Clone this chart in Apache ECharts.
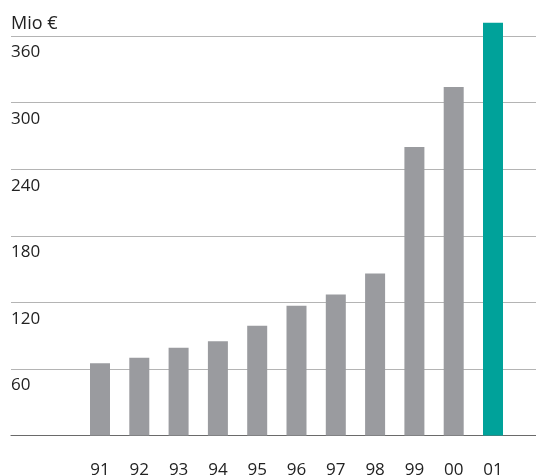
<!DOCTYPE html>
<html>
<head>
<meta charset="utf-8">
<script src="https://cdn.jsdelivr.net/npm/echarts@6/dist/echarts.min.js"></script>
<style>html,body{margin:0;padding:0;background:#fff}#c{width:536px;height:476px}</style>
</head>
<body>
<div id="c"></div>
<script>
const categories = ['91','92','93','94','95','96','97','98','99','00','01'];
const values = [65, 70, 79, 85, 99, 117, 127, 146, 260, 314, 372];
const highlightIndex = 10;
const yTicks = { min: 0, max: 360, interval: 60 };
const unitLabel = 'Mio €';

const FONT = '"Open Sans", "Noto Sans", sans-serif';
const chart = echarts.init(document.getElementById('c'), null, { renderer: 'canvas' });
chart.setOption({
  animation: false,
  grid: [
    { left: 80.35, right: 23.35, top: 36, bottom: 40.5, containLabel: false, outerBoundsMode: 'none' },
    { left: 11, right: 0, top: 36, bottom: 40.5, containLabel: false, outerBoundsMode: 'none' }
  ],
  xAxis: [
    { type: 'category', gridIndex: 0, data: categories,
      axisLine: { show: false }, axisTick: { show: false },
      axisLabel: { margin: 26, fontSize: 17, color: '#222', fontFamily: FONT } },
    { type: 'value', gridIndex: 1, min: 0, max: 1, show: true,
      axisLine: { show: true, lineStyle: { color: '#6a6a6a', width: 1.2 } },
      axisTick: { show: false }, axisLabel: { show: false }, splitLine: { show: false } }
  ],
  yAxis: [
    { type: 'value', gridIndex: 0, min: yTicks.min, max: yTicks.max, interval: yTicks.interval, show: false },
    { type: 'value', gridIndex: 1, min: yTicks.min, max: yTicks.max, interval: yTicks.interval,
      name: unitLabel, nameLocation: 'end', nameGap: 3,
      nameTextStyle: { align: 'left', verticalAlign: 'bottom', fontSize: 18, color: '#222', fontFamily: FONT, padding: 0 },
      axisLine: { show: false }, axisTick: { show: false },
      axisLabel: { inside: true, margin: 0, showMinLabel: false, verticalAlign: 'top', padding: [8, 0, 0, 0],
        fontSize: 17, color: '#222', fontFamily: FONT },
      splitLine: { show: true, lineStyle: { color: '#b4b4b4', width: 1.2 } } }
  ],
  series: [{
    type: 'bar', xAxisIndex: 0, yAxisIndex: 0, barWidth: 20, clip: false,
    data: values.map((v, i) => ({ value: v, itemStyle: { color: i === highlightIndex ? '#00a29a' : '#9a9b9f' } }))
  }]
});
</script>
</body>
</html>
